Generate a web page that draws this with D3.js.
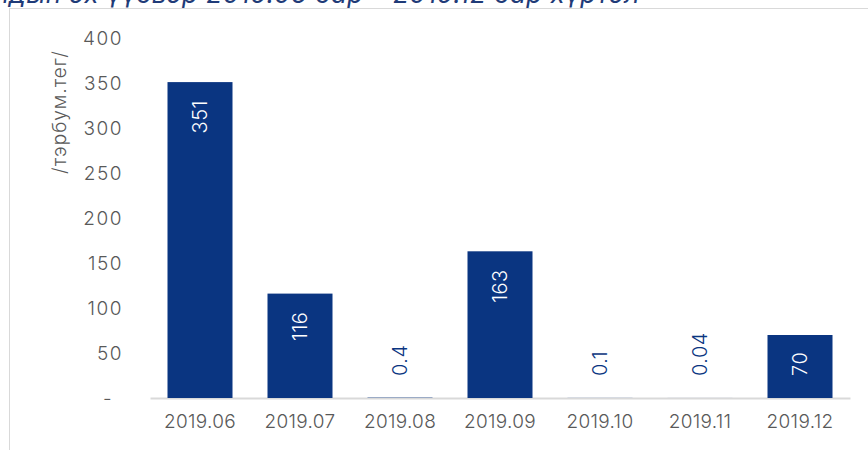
<!DOCTYPE html>
<html>
<head>
<meta charset="utf-8">
<script src="https://cdn.jsdelivr.net/npm/d3@7"></script>
<style>
  body { margin: 0; background: #fff; }
  svg text { font-family: Inter, "DejaVu Sans", sans-serif; }
</style>
</head>
<body>
<div class="CHART"></div>
<script>
// data
var months = ["2019.06", "2019.07", "2019.08", "2019.09", "2019.10", "2019.11", "2019.12"];
var values = [351, 116, 0.4, 163, 0.1, 0.04, 70];
var valueLabels = ["351", "116", "0.4", "163", "0.1", "0.04", "70"];
var yTicks = [0, 50, 100, 150, 200, 250, 300, 350, 400];
var yTitle = "/тэрбум.тег/";
var title = "Бондын эх үүсвэр 2019.06 сар – 2019.12 сар хүртэл";

var W = 868, H = 450;
var margin = {top: 38, right: 18, bottom: 52, left: 150},
    width = W - margin.left - margin.right,
    height = H - margin.top - margin.bottom;

var svg = d3.select(".CHART").append("svg")
    .attr("width", W)
    .attr("height", H);

// title, cut off at the top like the source
svg.append("text")
    .attr("x", 640)
    .attr("y", 3)
    .attr("text-anchor", "end")
    .attr("font-style", "italic")
    .attr("font-size", 26)
    .attr("letter-spacing", 0.5)
    .attr("fill", "#1f3b78")
    .text(title);

// chart frame
svg.append("rect")
    .attr("x", 9.5).attr("y", 8.5)
    .attr("width", W).attr("height", H)
    .attr("fill", "none")
    .attr("stroke", "#d9d9d9");

var g = svg.append("g").attr("transform", "translate(" + margin.left + "," + margin.top + ")");

var x = d3.scaleBand().domain(months).range([0, 700]).paddingInner(0.35).paddingOuter(0.175);
var y = d3.scaleLinear().domain([0, 400]).range([360, 0]);

// y axis labels (no line)
var yAxis = d3.axisLeft(y).tickValues(yTicks).tickSize(0).tickPadding(0)
    .tickFormat(function(d) { return d === 0 ? "-" : d; });
var ya = g.append("g").attr("transform", "translate(-27,0)").call(yAxis);
ya.select(".domain").remove();
ya.selectAll("text")
    .attr("font-size", 19)
    .attr("font-weight", 300)
    .attr("letter-spacing", 1.5)
    .attr("fill", "#595959")
    .attr("dy", "0.35em")
    .attr("dx", function(d) { return d === 0 ? -10 : 0; });

// x axis
var xAxis = d3.axisBottom(x).tickSize(0).tickPadding(17);
var xa = g.append("g").attr("transform", "translate(0,360)").call(xAxis);
xa.select(".domain").attr("stroke", "#d9d9d9").attr("stroke-width", 2);
xa.selectAll("text")
    .attr("font-size", 19)
    .attr("font-weight", 300)
    .attr("letter-spacing", 0.3)
    .attr("fill", "#595959");

// bars
g.selectAll(".bar").data(values).enter().append("rect")
    .attr("class", "bar")
    .attr("x", function(d, i) { return x(months[i]); })
    .attr("y", function(d) { return y(d); })
    .attr("width", x.bandwidth())
    .attr("height", function(d) { return 360 - y(d); })
    .attr("fill", "#0a3581");

// value labels, rotated
g.selectAll(".lbl").data(values).enter().append("text")
    .attr("class", "lbl")
    .attr("font-size", 20)
    .attr("font-weight", 300)
    .attr("letter-spacing", 0.5)
    .attr("dominant-baseline", "central")
    .attr("fill", function(d) { return d > 10 ? "#ffffff" : "#0a3581"; })
    .text(function(d, i) { return valueLabels[i]; })
    .each(function(d, i) {
      var len = this.getComputedTextLength();
      var cx = x(months[i]) + x.bandwidth() / 2;
      var bottom = y(d) + 18 + len;
      if (bottom > 338) bottom = 338;
      d3.select(this)
        .attr("transform", "translate(" + cx + "," + bottom + ") rotate(-90)");
    });

// y title
svg.append("text")
    .attr("transform", "translate(59,112) rotate(-90)")
    .attr("text-anchor", "middle")
    .attr("dominant-baseline", "central")
    .attr("font-size", 19)
    .attr("font-weight", 300)
    .attr("letter-spacing", 1)
    .attr("fill", "#595959")
    .text(yTitle);
</script>
</body>
</html>
